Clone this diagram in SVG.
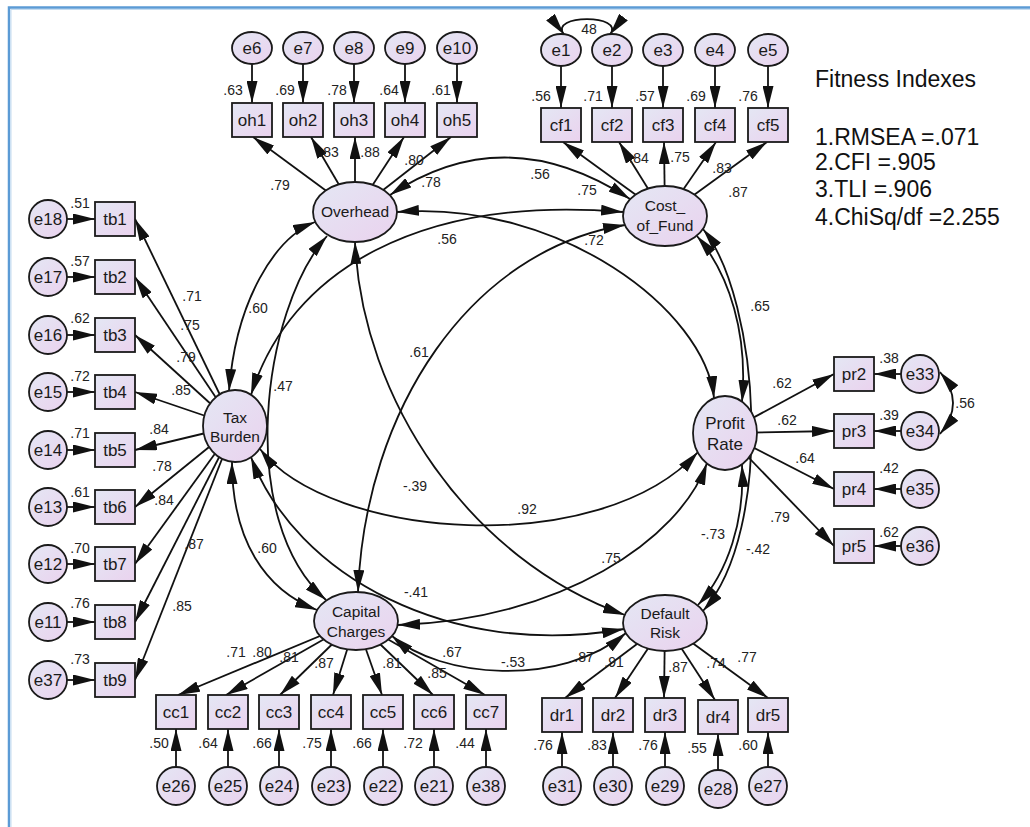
<svg xmlns="http://www.w3.org/2000/svg" width="1030" height="827" viewBox="0 0 1030 827">
<defs>
<linearGradient id="g" x1="0" y1="0" x2="1" y2="1"><stop offset="0" stop-color="#e4e7f4"/><stop offset="1" stop-color="#ead2ee"/></linearGradient>
<marker id="ah" viewBox="0 0 22 11" refX="22" refY="5.5" markerWidth="22" markerHeight="11" markerUnits="userSpaceOnUse" orient="auto-start-reverse"><path d="M0,0 L22,5.5 L0,11 Z" fill="#111"/></marker>
</defs>
<style>
.c{fill:none;stroke:#111;stroke-width:1.8}
.s{marker-end:url(#ah)}
.d{marker-start:url(#ah);marker-end:url(#ah)}
.n{fill:url(#g);stroke:#1a1a1a;stroke-width:1.8}
text{font-family:"Liberation Sans",Arial,sans-serif;fill:#1a1a1a;text-anchor:middle}
.t17{font-size:17px}
.t15{font-size:15.5px}
.l{font-size:14px;fill:#222}
.fi{font-size:23px;text-anchor:start;fill:#111}
</style>
<rect width="1030" height="827" fill="#fff"/>
<path d="M9,827 V7.5 H1030" fill="none" stroke="#5b9bd5" stroke-width="2.5"/>
<path d="M11,827 V9.5 H1030" fill="none" stroke="#c5dcf0" stroke-width="1"/>

<g id="connectors">
<!-- error arrows -->
<path class="c s" d="M252,64 V103"/><path class="c s" d="M303,64 V103"/><path class="c s" d="M354,64 V103"/><path class="c s" d="M405,64 V103"/><path class="c s" d="M457,64 V103"/>
<path class="c s" d="M561,66 V108"/><path class="c s" d="M612,66 V108"/><path class="c s" d="M663,66 V108"/><path class="c s" d="M715,66 V108"/><path class="c s" d="M768,66 V108"/>
<path class="c s" d="M67,219 H95"/><path class="c s" d="M67,277 H95"/><path class="c s" d="M67,335 H95"/><path class="c s" d="M67,392 H95"/><path class="c s" d="M67,450 H95"/><path class="c s" d="M67,507 H95"/><path class="c s" d="M67,564 H95"/><path class="c s" d="M67,622 H95"/><path class="c s" d="M67,680 H95"/>
<path class="c s" d="M176,767 V729"/><path class="c s" d="M228,767 V729"/><path class="c s" d="M279,767 V729"/><path class="c s" d="M331,767 V729"/><path class="c s" d="M383,767 V729"/><path class="c s" d="M434,767 V729"/><path class="c s" d="M486,767 V729"/>
<path class="c s" d="M562,767 V732"/><path class="c s" d="M613,767 V732"/><path class="c s" d="M665,767 V732"/><path class="c s" d="M718,770 V734"/><path class="c s" d="M768,767 V732"/>
<path class="c s" d="M901,374 H874"/><path class="c s" d="M901,431 H874"/><path class="c s" d="M901,489 H874"/><path class="c s" d="M901,546 H874"/>
<!-- loadings -->
<path class="c s" d="M355,212 L253,137"/><path class="c s" d="M355,212 L311,137"/><path class="c s" d="M355,212 L355,137"/><path class="c s" d="M355,212 L404,137"/><path class="c s" d="M355,212 L451,137"/>
<path class="c s" d="M665,216 L563,142"/><path class="c s" d="M665,216 L619,142"/><path class="c s" d="M665,216 L664,142"/><path class="c s" d="M665,216 L716,142"/><path class="c s" d="M665,216 L767,142"/>
<path class="c s" d="M235,426 L135,219"/><path class="c s" d="M235,426 L135,277"/><path class="c s" d="M235,426 L135,335"/><path class="c s" d="M235,426 L135,392"/><path class="c s" d="M235,426 L135,450"/><path class="c s" d="M235,426 L135,507"/><path class="c s" d="M235,426 L135,564"/><path class="c s" d="M235,426 L135,622"/><path class="c s" d="M235,426 L135,680"/>
<path class="c s" d="M356,621 L178,695"/><path class="c s" d="M356,621 L226,695"/><path class="c s" d="M356,621 L280,695"/><path class="c s" d="M356,621 L333,695"/><path class="c s" d="M356,621 L382,695"/><path class="c s" d="M356,621 L433,695"/><path class="c s" d="M356,621 L485,695"/>
<path class="c s" d="M665,623 L565,698"/><path class="c s" d="M665,623 L615,698"/><path class="c s" d="M665,623 L664,698"/><path class="c s" d="M665,623 L715,700"/><path class="c s" d="M665,623 L768,698"/>
<path class="c s" d="M725,433 L834,374"/><path class="c s" d="M725,433 L834,431"/><path class="c s" d="M725,433 L834,489"/><path class="c s" d="M725,433 L834,546"/>
<!-- covariances -->
<path class="c d" d="M564,34.5 C548,14 626,14 610,34.5"/>
<path class="c d" d="M940,372 Q966,403 940,434"/>
<path class="c d" d="M390,195 Q505,118 630,199"/>
<path class="c d" d="M397,212 C560,200 705,310 714,398"/>
<path class="c d" d="M251,395 C290,270 420,195 623,212"/>
<path class="c d" d="M358,592 C365,410 470,250 625,225"/>
<path class="c d" d="M315,222 C275,238 236,300 229,391"/>
<path class="c d" d="M327,236 C262,310 235,520 326,600"/>
<path class="c d" d="M355,242 C362,400 470,560 625,615"/>
<path class="c d" d="M697,236 C730,275 748,335 742,402"/>
<path class="c d" d="M703,229 C760,300 775,530 703,611"/>
<path class="c d" d="M742,465 C745,520 728,572 698,605"/>
<path class="c d" d="M260,449 C330,540 600,560 698,452"/>
<path class="c d" d="M251,457 C295,575 450,660 624,629"/>
<path class="c d" d="M232,462 C232,540 265,590 317,610"/>
<path class="c d" d="M707,463 C680,540 560,620 398,625"/>
<path class="c d" d="M392,636 C440,678 560,688 626,633"/>
</g>

<!-- latent nodes -->
<g id="Overhead"><ellipse class="n" cx="355" cy="212" rx="42" ry="30"/><text class="t15" x="355" y="217">Overhead</text></g>
<g id="Cost_of_Fund"><ellipse class="n" cx="665" cy="216" rx="42" ry="30"/><text class="t15" x="665" y="211">Cost_</text><text class="t15" x="665" y="231">of_Fund</text></g>
<g id="Tax_Burden"><ellipse class="n" cx="235" cy="426" rx="32" ry="36"/><text class="t15" x="235" y="423">Tax</text><text class="t15" x="235" y="442">Burden</text></g>
<g id="Profit_Rate"><ellipse class="n" cx="725" cy="433" rx="32" ry="37"/><text class="t17" x="725" y="429">Profit</text><text class="t17" x="725" y="450">Rate</text></g>
<g id="Capital_Charges"><ellipse class="n" cx="356" cy="621" rx="42" ry="29"/><text class="t15" x="356" y="617">Capital</text><text class="t15" x="356" y="637">Charges</text></g>
<g id="Default_Risk"><ellipse class="n" cx="665" cy="623" rx="42" ry="28"/><text class="t15" x="665" y="619">Default</text><text class="t15" x="665" y="638">Risk</text></g>

<!-- observed nodes -->
<g id="oh1"><rect class="n" x="232" y="103" width="40" height="34"/><text class="t17" x="252" y="126">oh1</text></g>
<g id="oh2"><rect class="n" x="283" y="103" width="40" height="34"/><text class="t17" x="303" y="126">oh2</text></g>
<g id="oh3"><rect class="n" x="334" y="103" width="40" height="34"/><text class="t17" x="354" y="126">oh3</text></g>
<g id="oh4"><rect class="n" x="385" y="103" width="40" height="34"/><text class="t17" x="405" y="126">oh4</text></g>
<g id="oh5"><rect class="n" x="437" y="103" width="40" height="34"/><text class="t17" x="457" y="126">oh5</text></g>
<g id="cf1"><rect class="n" x="541" y="108" width="40" height="34"/><text class="t17" x="561" y="131">cf1</text></g>
<g id="cf2"><rect class="n" x="592" y="108" width="40" height="34"/><text class="t17" x="612" y="131">cf2</text></g>
<g id="cf3"><rect class="n" x="643" y="108" width="40" height="34"/><text class="t17" x="663" y="131">cf3</text></g>
<g id="cf4"><rect class="n" x="695" y="108" width="40" height="34"/><text class="t17" x="715" y="131">cf4</text></g>
<g id="cf5"><rect class="n" x="748" y="108" width="40" height="34"/><text class="t17" x="768" y="131">cf5</text></g>
<g id="tb1"><rect class="n" x="95" y="202" width="40" height="34"/><text class="t17" x="115" y="225">tb1</text></g>
<g id="tb2"><rect class="n" x="95" y="260" width="40" height="34"/><text class="t17" x="115" y="283">tb2</text></g>
<g id="tb3"><rect class="n" x="95" y="318" width="40" height="34"/><text class="t17" x="115" y="341">tb3</text></g>
<g id="tb4"><rect class="n" x="95" y="375" width="40" height="34"/><text class="t17" x="115" y="398">tb4</text></g>
<g id="tb5"><rect class="n" x="95" y="433" width="40" height="34"/><text class="t17" x="115" y="456">tb5</text></g>
<g id="tb6"><rect class="n" x="95" y="490" width="40" height="34"/><text class="t17" x="115" y="513">tb6</text></g>
<g id="tb7"><rect class="n" x="95" y="547" width="40" height="34"/><text class="t17" x="115" y="570">tb7</text></g>
<g id="tb8"><rect class="n" x="95" y="605" width="40" height="34"/><text class="t17" x="115" y="628">tb8</text></g>
<g id="tb9"><rect class="n" x="95" y="663" width="40" height="34"/><text class="t17" x="115" y="686">tb9</text></g>
<g id="cc1"><rect class="n" x="156" y="695" width="40" height="34"/><text class="t17" x="176" y="718">cc1</text></g>
<g id="cc2"><rect class="n" x="208" y="695" width="40" height="34"/><text class="t17" x="228" y="718">cc2</text></g>
<g id="cc3"><rect class="n" x="259" y="695" width="40" height="34"/><text class="t17" x="279" y="718">cc3</text></g>
<g id="cc4"><rect class="n" x="311" y="695" width="40" height="34"/><text class="t17" x="331" y="718">cc4</text></g>
<g id="cc5"><rect class="n" x="363" y="695" width="40" height="34"/><text class="t17" x="383" y="718">cc5</text></g>
<g id="cc6"><rect class="n" x="414" y="695" width="40" height="34"/><text class="t17" x="434" y="718">cc6</text></g>
<g id="cc7"><rect class="n" x="466" y="695" width="40" height="34"/><text class="t17" x="486" y="718">cc7</text></g>
<g id="dr1"><rect class="n" x="542" y="698" width="40" height="34"/><text class="t17" x="562" y="721">dr1</text></g>
<g id="dr2"><rect class="n" x="593" y="698" width="40" height="34"/><text class="t17" x="613" y="721">dr2</text></g>
<g id="dr3"><rect class="n" x="645" y="698" width="40" height="34"/><text class="t17" x="665" y="721">dr3</text></g>
<g id="dr4"><rect class="n" x="698" y="700" width="40" height="34"/><text class="t17" x="718" y="723">dr4</text></g>
<g id="dr5"><rect class="n" x="748" y="698" width="40" height="34"/><text class="t17" x="768" y="721">dr5</text></g>
<g id="pr2"><rect class="n" x="834" y="357" width="40" height="34"/><text class="t17" x="854" y="380">pr2</text></g>
<g id="pr3"><rect class="n" x="834" y="414" width="40" height="34"/><text class="t17" x="854" y="437">pr3</text></g>
<g id="pr4"><rect class="n" x="834" y="472" width="40" height="34"/><text class="t17" x="854" y="495">pr4</text></g>
<g id="pr5"><rect class="n" x="834" y="529" width="40" height="34"/><text class="t17" x="854" y="552">pr5</text></g>

<!-- error nodes -->
<g id="e6"><ellipse class="n" cx="252" cy="48" rx="20" ry="16"/><text class="t17" x="252" y="54">e6</text></g>
<g id="e7"><ellipse class="n" cx="303" cy="48" rx="20" ry="16"/><text class="t17" x="303" y="54">e7</text></g>
<g id="e8"><ellipse class="n" cx="354" cy="48" rx="20" ry="16"/><text class="t17" x="354" y="54">e8</text></g>
<g id="e9"><ellipse class="n" cx="405" cy="48" rx="20" ry="16"/><text class="t17" x="405" y="54">e9</text></g>
<g id="e10"><ellipse class="n" cx="457" cy="48" rx="20" ry="16"/><text class="t17" x="457" y="54">e10</text></g>
<g id="e1"><ellipse class="n" cx="561" cy="50" rx="20" ry="16"/><text class="t17" x="561" y="56">e1</text></g>
<g id="e2"><ellipse class="n" cx="612" cy="50" rx="20" ry="16"/><text class="t17" x="612" y="56">e2</text></g>
<g id="e3"><ellipse class="n" cx="663" cy="50" rx="20" ry="16"/><text class="t17" x="663" y="56">e3</text></g>
<g id="e4"><ellipse class="n" cx="715" cy="50" rx="20" ry="16"/><text class="t17" x="715" y="56">e4</text></g>
<g id="e5"><ellipse class="n" cx="768" cy="50" rx="20" ry="16"/><text class="t17" x="768" y="56">e5</text></g>
<g id="e18"><circle class="n" cx="48" cy="219" r="19"/><text class="t17" x="48" y="225">e18</text></g>
<g id="e17"><circle class="n" cx="48" cy="277" r="19"/><text class="t17" x="48" y="283">e17</text></g>
<g id="e16"><circle class="n" cx="48" cy="335" r="19"/><text class="t17" x="48" y="341">e16</text></g>
<g id="e15"><circle class="n" cx="48" cy="392" r="19"/><text class="t17" x="48" y="398">e15</text></g>
<g id="e14"><circle class="n" cx="48" cy="450" r="19"/><text class="t17" x="48" y="456">e14</text></g>
<g id="e13"><circle class="n" cx="48" cy="507" r="19"/><text class="t17" x="48" y="513">e13</text></g>
<g id="e12"><circle class="n" cx="48" cy="564" r="19"/><text class="t17" x="48" y="570">e12</text></g>
<g id="e11"><circle class="n" cx="48" cy="622" r="19"/><text class="t17" x="48" y="628">e11</text></g>
<g id="e37"><circle class="n" cx="48" cy="680" r="19"/><text class="t17" x="48" y="686">e37</text></g>
<g id="e26"><circle class="n" cx="176" cy="786" r="19"/><text class="t17" x="176" y="792">e26</text></g>
<g id="e25"><circle class="n" cx="228" cy="786" r="19"/><text class="t17" x="228" y="792">e25</text></g>
<g id="e24"><circle class="n" cx="279" cy="786" r="19"/><text class="t17" x="279" y="792">e24</text></g>
<g id="e23"><circle class="n" cx="331" cy="786" r="19"/><text class="t17" x="331" y="792">e23</text></g>
<g id="e22"><circle class="n" cx="383" cy="786" r="19"/><text class="t17" x="383" y="792">e22</text></g>
<g id="e21"><circle class="n" cx="434" cy="786" r="19"/><text class="t17" x="434" y="792">e21</text></g>
<g id="e38"><circle class="n" cx="486" cy="786" r="19"/><text class="t17" x="486" y="792">e38</text></g>
<g id="e31"><circle class="n" cx="562" cy="786" r="19"/><text class="t17" x="562" y="792">e31</text></g>
<g id="e30"><circle class="n" cx="613" cy="786" r="19"/><text class="t17" x="613" y="792">e30</text></g>
<g id="e29"><circle class="n" cx="665" cy="786" r="19"/><text class="t17" x="665" y="792">e29</text></g>
<g id="e28"><circle class="n" cx="718" cy="789" r="19"/><text class="t17" x="718" y="795">e28</text></g>
<g id="e27"><circle class="n" cx="768" cy="786" r="19"/><text class="t17" x="768" y="792">e27</text></g>
<g id="e33"><circle class="n" cx="920" cy="374" r="19"/><text class="t17" x="920" y="380">e33</text></g>
<g id="e34"><circle class="n" cx="920" cy="431" r="19"/><text class="t17" x="920" y="437">e34</text></g>
<g id="e35"><circle class="n" cx="920" cy="489" r="19"/><text class="t17" x="920" y="495">e35</text></g>
<g id="e36"><circle class="n" cx="920" cy="546" r="19"/><text class="t17" x="920" y="552">e36</text></g>

<g id="labels" class="l">
<text class="l" x="233" y="95">.63</text><text class="l" x="285" y="95">.69</text><text class="l" x="337" y="95">.78</text><text class="l" x="389" y="95">.64</text><text class="l" x="441" y="95">.61</text>
<text class="l" x="541" y="101">.56</text><text class="l" x="593" y="101">.71</text><text class="l" x="645" y="101">.57</text><text class="l" x="696" y="101">.69</text><text class="l" x="748" y="101">.76</text>
<text class="l" x="80" y="208">.51</text><text class="l" x="80" y="266">.57</text><text class="l" x="80" y="323">.62</text><text class="l" x="80" y="381">.72</text><text class="l" x="80" y="438">.71</text><text class="l" x="80" y="497">.61</text><text class="l" x="80" y="553">.70</text><text class="l" x="80" y="608">.76</text><text class="l" x="80" y="664">.73</text>
<text class="l" x="159" y="748">.50</text><text class="l" x="208" y="748">.64</text><text class="l" x="262" y="748">.66</text><text class="l" x="312" y="748">.75</text><text class="l" x="362" y="748">.66</text><text class="l" x="413" y="748">.72</text><text class="l" x="465" y="748">.44</text>
<text class="l" x="543" y="750">.76</text><text class="l" x="597" y="750">.83</text><text class="l" x="648" y="750">.76</text><text class="l" x="697" y="753">.55</text><text class="l" x="748" y="750">.60</text>
<text class="l" x="889" y="363">.38</text><text class="l" x="889" y="420">.39</text><text class="l" x="889" y="473">.42</text><text class="l" x="889" y="537">.62</text>
<text class="l" x="280" y="190">.79</text><text class="l" x="329" y="157">.83</text><text class="l" x="370" y="157">.88</text><text class="l" x="414" y="165">.80</text><text class="l" x="431" y="187">.78</text>
<text class="l" x="587" y="195">.75</text><text class="l" x="639" y="163">.84</text><text class="l" x="680" y="162">.75</text><text class="l" x="722" y="173">.83</text><text class="l" x="738" y="197">.87</text>
<text class="l" x="192" y="301">.71</text><text class="l" x="190" y="330">.75</text><text class="l" x="186" y="362">.79</text><text class="l" x="181" y="395">.85</text><text class="l" x="159" y="434">.84</text><text class="l" x="162" y="471">.78</text><text class="l" x="164" y="505">.84</text><text class="l" x="194" y="549">.87</text><text class="l" x="182" y="611">.85</text>
<text class="l" x="236" y="657">.71</text><text class="l" x="262" y="657">.80</text><text class="l" x="289" y="662">.81</text><text class="l" x="324" y="668">.87</text><text class="l" x="392" y="668">.81</text><text class="l" x="437" y="678">.85</text><text class="l" x="452" y="657">.67</text>
<text class="l" x="584" y="662">.87</text><text class="l" x="614" y="667">.91</text><text class="l" x="678" y="672">.87</text><text class="l" x="716" y="668">.74</text><text class="l" x="747" y="662">.77</text>
<text class="l" x="782" y="388">.62</text><text class="l" x="787" y="425">.62</text><text class="l" x="805" y="463">.64</text><text class="l" x="780" y="522">.79</text>
<text class="l" x="589" y="34">48</text><text class="l" x="965" y="408">.56</text>
<text class="l" x="540" y="179">.56</text><text class="l" x="594" y="245">.72</text><text class="l" x="447" y="244">.56</text><text class="l" x="419" y="357">.61</text><text class="l" x="258" y="313">.60</text><text class="l" x="283" y="391">.47</text><text class="l" x="760" y="311">.65</text><text class="l" x="415" y="491">-.39</text><text class="l" x="527" y="514">.92</text><text class="l" x="267" y="553">.60</text><text class="l" x="416" y="597">-.41</text><text class="l" x="611" y="563">.75</text><text class="l" x="713" y="539">-.73</text><text class="l" x="758" y="554">-.42</text><text class="l" x="513" y="667">-.53</text>
</g>

<g id="fitness">
<text class="fi" x="815" y="87">Fitness Indexes</text>
<text class="fi" x="815" y="145">1.RMSEA =.071</text>
<text class="fi" x="815" y="170">2.CFI =.905</text>
<text class="fi" x="815" y="197">3.TLI =.906</text>
<text class="fi" x="815" y="225">4.ChiSq/df =2.255</text>
</g>
</svg>
